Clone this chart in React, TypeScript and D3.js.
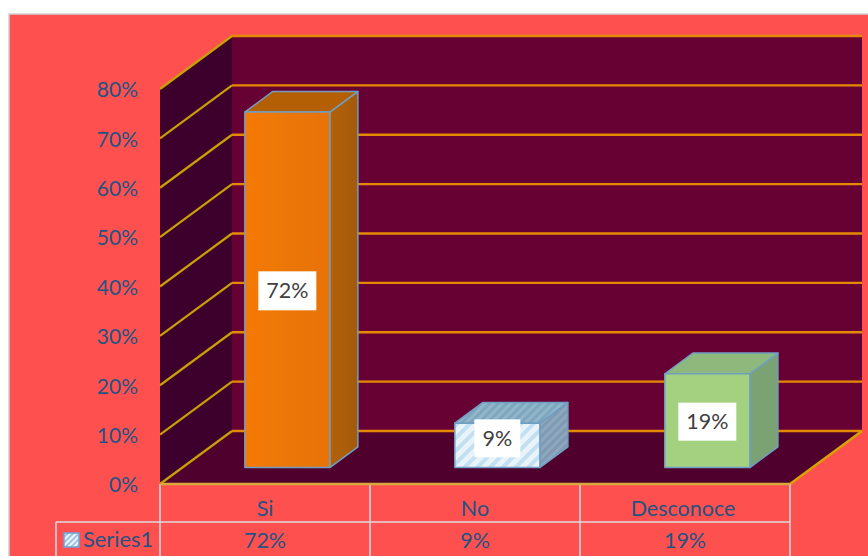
import React from "react";
import * as d3 from "d3";

// Survey shares shown as a 3D column chart with a data table underneath.
const categories = ["Si", "No", "Desconoce"];
const seriesName = "Series1";
const values = [72, 9, 19];
const yTicks = [0, 10, 20, 30, 40, 50, 60, 70, 80];

const barFaces = [
  { front: "url(#siFront)", top: "#b55f04", side: "url(#siSide)" },
  { front: "url(#noHatch)", top: "url(#noTop)", side: "url(#noSide)" },
  { front: "#a3d17f", top: "#8fb87c", side: "#7ba273" },
];
const labelBoxes = [
  { w: 58, h: 39, dy: 1 },
  { w: 46, h: 38, dy: -7 },
  { w: 58, h: 38, dy: 1 },
];

const WIDTH = 868;
const HEIGHT = 556;
const FONT = "Lato, Carlito, 'Open Sans', sans-serif";
const TEXT = "#215483";
const RULE = "#dcdcdc";

// Oblique depth offset of the 3D box, in pixels.
const DX = 72;
const DY = -53;

const y = d3.scaleLinear().domain([0, 80]).range([484, 89]);
const x = d3.scaleBand<string>().domain(categories).range([160, 790]);
const poly = d3.line<[number, number]>().curve(d3.curveLinearClosed);
const open = d3.line<[number, number]>();

// Maps a plot coordinate plus a depth fraction (0 front, 1 back) to the screen.
const at = (px: number, v: number, depth: number): [number, number] => [
  px + DX * depth,
  y(v) + DY * depth,
];

const BAR_WIDTH = 85;
const BAR_D0 = 0.31;
const BAR_D1 = 0.7;

function Column({ index }: { index: number }) {
  const cat = categories[index];
  const v = values[index];
  const faces = barFaces[index];
  const cx = x(cat)! + x.bandwidth() / 2;
  const l = cx - BAR_WIDTH / 2;
  const r = cx + BAR_WIDTH / 2;
  const front = [at(l, 0, BAR_D0), at(r, 0, BAR_D0), at(r, v, BAR_D0), at(l, v, BAR_D0)];
  const top = [at(l, v, BAR_D0), at(r, v, BAR_D0), at(r, v, BAR_D1), at(l, v, BAR_D1)];
  const side = [at(r, 0, BAR_D0), at(r, 0, BAR_D1), at(r, v, BAR_D1), at(r, v, BAR_D0)];
  const stroke = { stroke: "#6f9fc4", strokeWidth: 1.5, strokeLinejoin: "round" as const };
  return (
    <g>
      <path d={poly(side)!} fill={faces.side} {...stroke} />
      <path d={poly(top)!} fill={faces.top} {...stroke} />
      <path d={poly(front)!} fill={faces.front} {...stroke} />
    </g>
  );
}

function ValueLabel({ index }: { index: number }) {
  const cat = categories[index];
  const v = values[index];
  const box = labelBoxes[index];
  const cx = x(cat)! + x.bandwidth() / 2 + DX * BAR_D0;
  const mid = (y(0) + y(v)) / 2 + DY * BAR_D0 + box.dy;
  return (
    <g>
      <rect x={cx - box.w / 2} y={mid - box.h / 2} width={box.w} height={box.h} fill="#ffffff" />
      <text
        x={cx}
        y={mid}
        dy="0.35em"
        textAnchor="middle"
        fontFamily={FONT}
        fontSize={21.5}
        fill="#404040"
      >
        {v}%
      </text>
    </g>
  );
}

export default function App() {
  const [x0, x1] = x.range();
  const tableTop = y(0);
  const rowLine = 522;
  return (
    <svg
      width={WIDTH}
      height={HEIGHT}
      viewBox={`0 0 ${WIDTH} ${HEIGHT}`}
      style={{ position: "fixed", left: 0, top: 0, display: "block" }}
    >
      <defs>
        <linearGradient id="siFront" x1="0" x2="1" y1="0" y2="0">
          <stop offset="0" stopColor="#f57a05" />
          <stop offset="0.6" stopColor="#ea7608" />
          <stop offset="1" stopColor="#e97206" />
        </linearGradient>
        <linearGradient id="siSide" x1="0" x2="1" y1="0" y2="0">
          <stop offset="0" stopColor="#b46108" />
          <stop offset="1" stopColor="#a45a0a" />
        </linearGradient>
        <pattern id="noHatch" width="9" height="9" patternUnits="userSpaceOnUse" patternTransform="rotate(45)">
          <rect width="9" height="9" fill="#e9f3fa" />
          <rect width="4" height="9" fill="#c2e0f1" />
        </pattern>
        <pattern id="noTop" width="6" height="6" patternUnits="userSpaceOnUse" patternTransform="rotate(45)">
          <rect width="6" height="6" fill="#8fb6cb" />
          <rect width="3" height="6" fill="#7fa6bd" />
        </pattern>
        <pattern id="noSide" width="6" height="6" patternUnits="userSpaceOnUse" patternTransform="rotate(45)">
          <rect width="6" height="6" fill="#8da7bf" />
          <rect width="3" height="6" fill="#7f9ab2" />
        </pattern>
        <pattern id="keyHatch" width="4" height="4" patternUnits="userSpaceOnUse" patternTransform="rotate(45)">
          <rect width="4" height="4" fill="#eef5fb" />
          <rect width="2" height="4" fill="#9cc3e4" />
        </pattern>
      </defs>

      {/* page and chart area */}
      <rect width={WIDTH} height={HEIGHT} fill="#ffffff" />
      <rect x={9} y={14} width={WIDTH} height={HEIGHT} fill="#ff5050" stroke="#d0d0d0" strokeWidth={1.5} />

      {/* walls and floor of the 3D box */}
      <path
        d={poly([at(x0, 0, 1), at(x1, 0, 1), at(x1, 80, 1), at(x0, 80, 1)])!}
        fill="#670133"
      />
      <path
        d={poly([at(x0, 0, 0), at(x0, 0, 1), at(x0, 80, 1), at(x0, 80, 0)])!}
        fill="#3d002c"
      />
      <path
        d={poly([at(x0, 0, 0), at(x1, 0, 0), at(x1, 0, 1), at(x0, 0, 1)])!}
        fill="#4f002d"
      />

      {/* gridlines wrapping the side and back walls */}
      {yTicks.map((t) => (
        <g key={t} fill="none">
          <path d={open([at(x0, t, 1), at(x1, t, 1)])!} stroke="#e58a00" strokeWidth={2.4} />
          <path d={open([at(x0, t, 0), at(x0, t, 1)])!} stroke="#c9a005" strokeWidth={2.2} />
        </g>
      ))}
      <path d={open([at(x1, 0, 0), at(x1, 0, 1)])!} stroke="#d9a400" strokeWidth={2.4} fill="none" />

      {categories.map((c, i) => (
        <Column key={c} index={i} />
      ))}
      {categories.map((c, i) => (
        <ValueLabel key={c} index={i} />
      ))}

      {/* value axis */}
      {yTicks.map((t) => (
        <text
          key={t}
          x={138}
          y={y(t) + 1}
          dy="0.35em"
          textAnchor="end"
          fontFamily={FONT}
          fontSize={21}
          fill={TEXT}
        >
          {t}%
        </text>
      ))}

      {/* data table below the plot */}
      {[...categories.map((c) => x(c)!), x1].map((px) => (
        <line key={px} x1={px} x2={px} y1={tableTop} y2={HEIGHT} stroke={RULE} strokeWidth={1.5} />
      ))}
      <line x1={56} x2={x1} y1={rowLine} y2={rowLine} stroke={RULE} strokeWidth={1.5} />
      <line x1={56} x2={56} y1={rowLine} y2={HEIGHT} stroke={RULE} strokeWidth={1.5} />
      <line x1={x0} x2={x1} y1={tableTop} y2={tableTop} stroke="#d9a93a" strokeWidth={2.4} />

      <rect x={64} y={533} width={15} height={14} fill="url(#keyHatch)" stroke="#6aa5da" strokeWidth={1.5} />
      <text x={83} y={547} fontFamily={FONT} fontSize={21.8} fill={TEXT}>
        {seriesName}
      </text>
      {categories.map((c, i) => {
        const cx = x(c)! + x.bandwidth() / 2;
        return (
          <g key={c} fontFamily={FONT} fontSize={21.5} fill={TEXT} textAnchor="middle">
            <text x={cx - (i === 2 ? 2 : 0)} y={516}>
              {c}
            </text>
            <text x={cx} y={548}>
              {values[i]}%
            </text>
          </g>
        );
      })}
    </svg>
  );
}
